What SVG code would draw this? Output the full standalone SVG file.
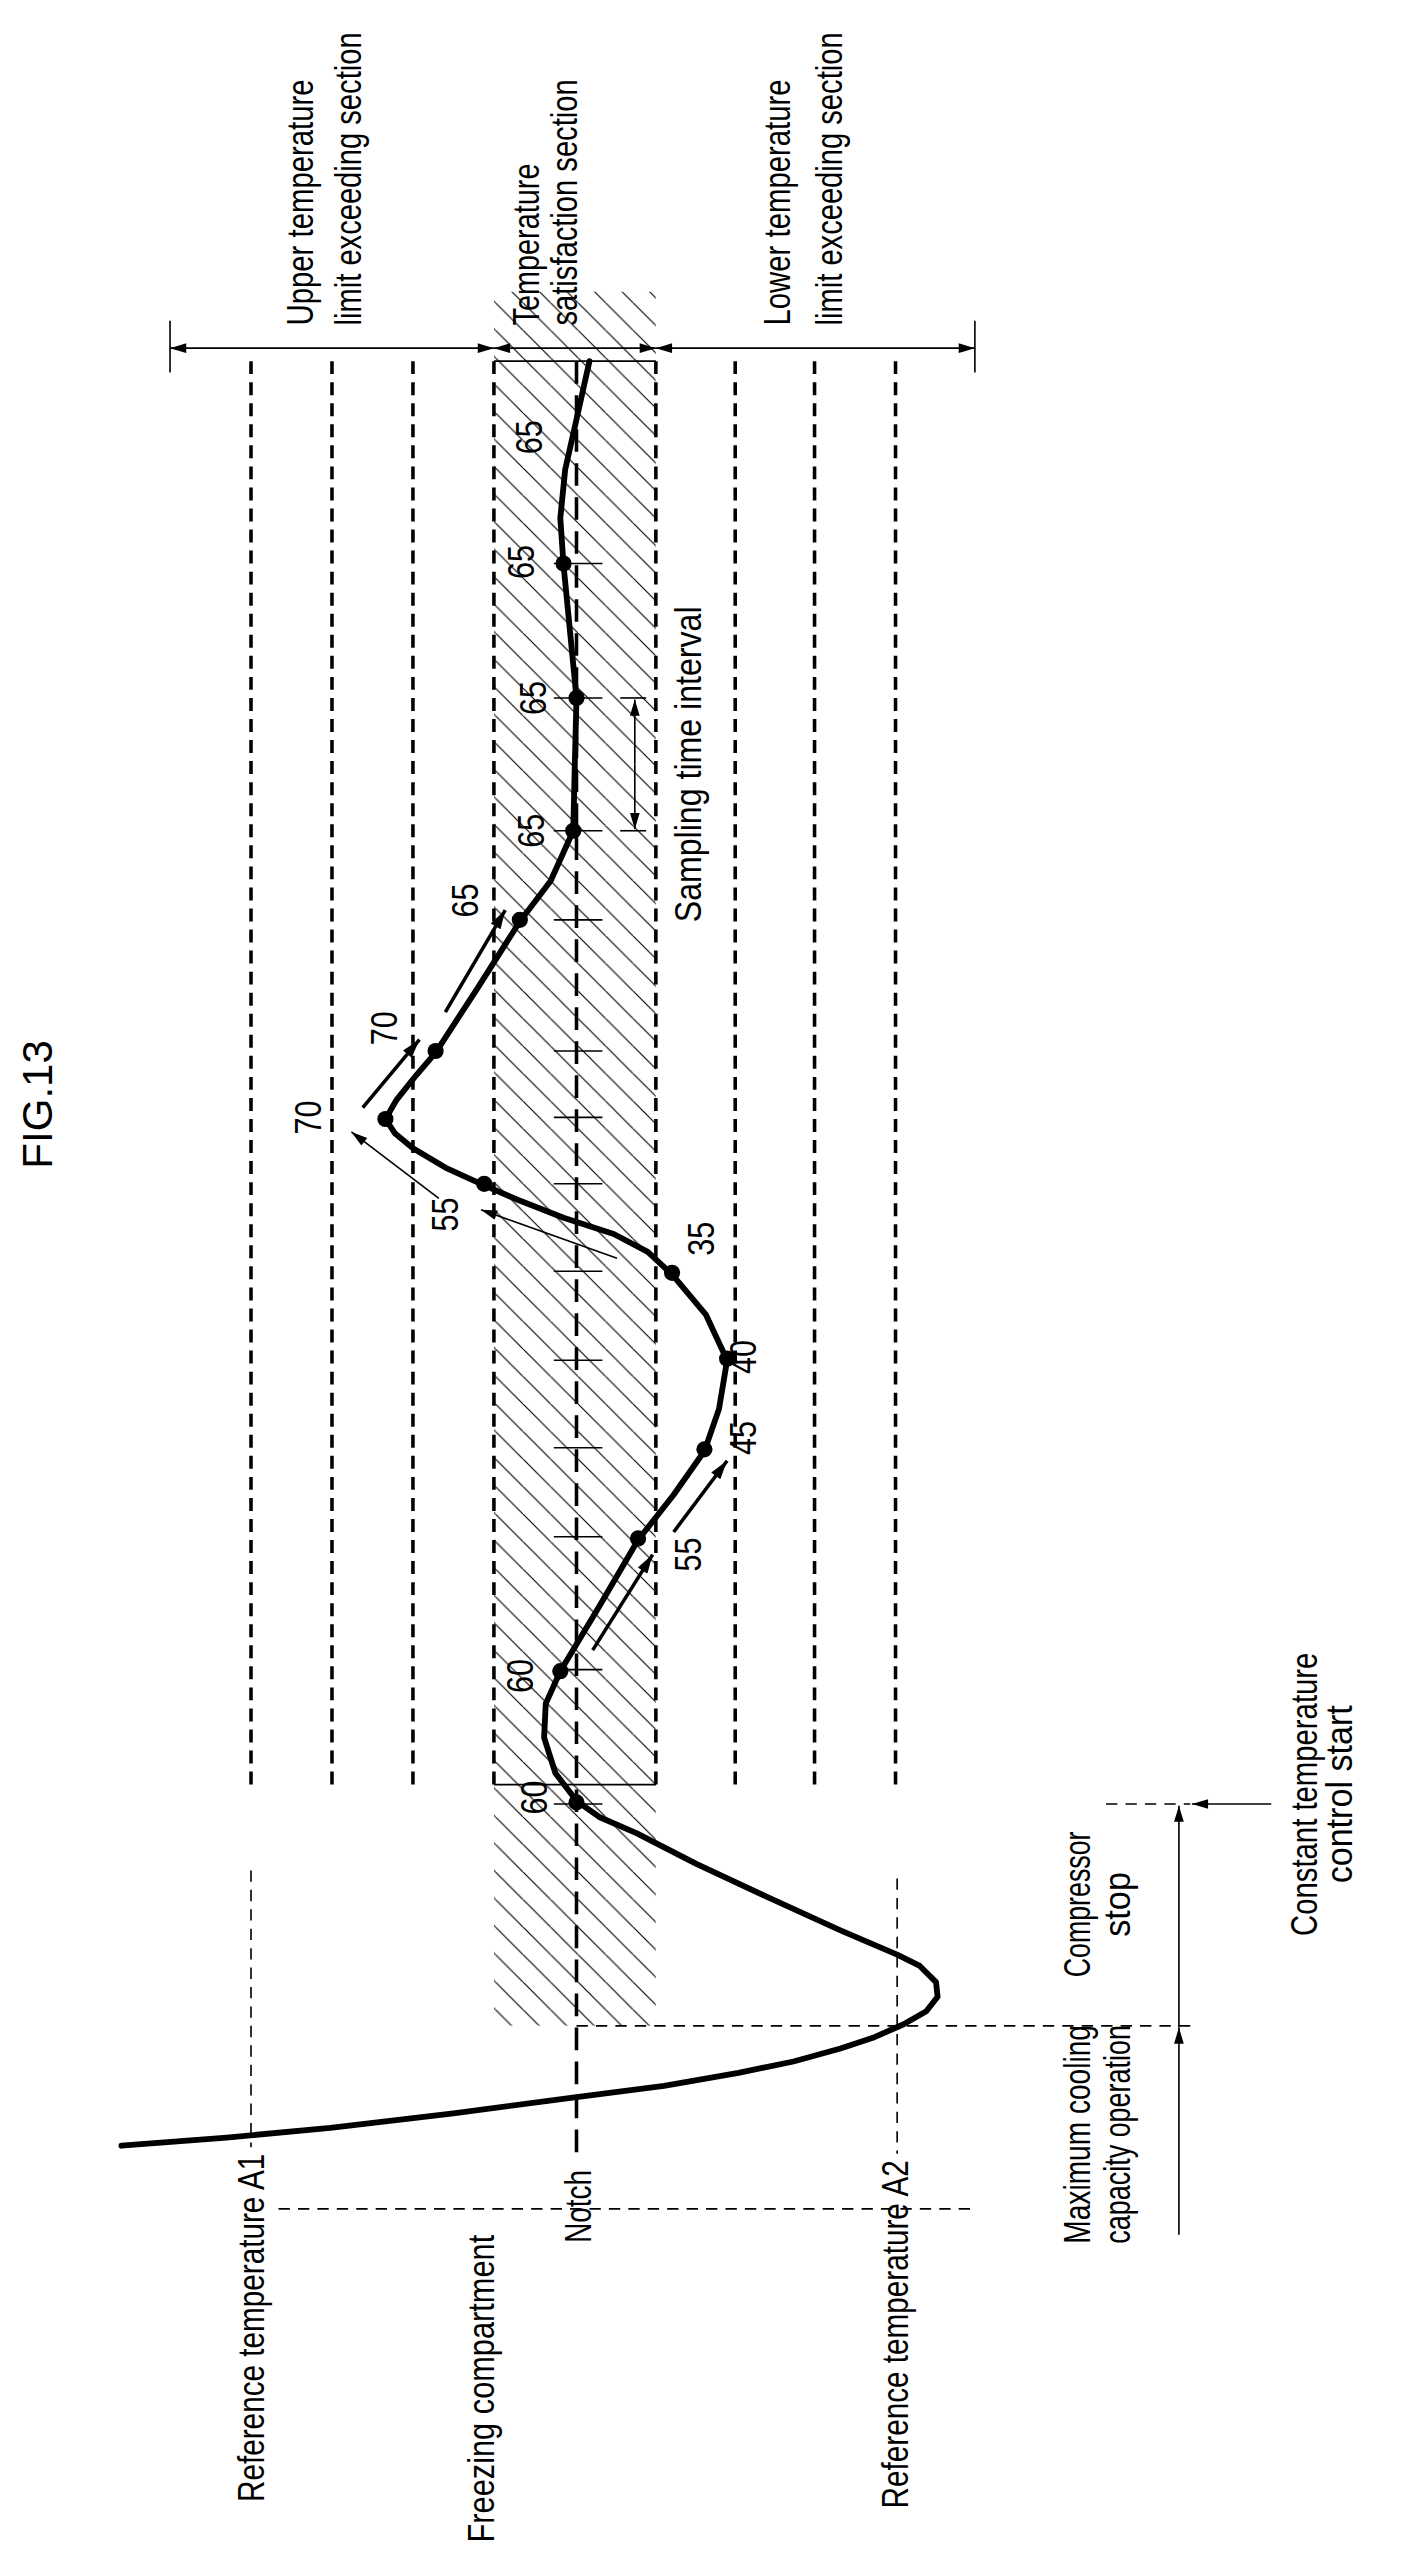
<svg xmlns="http://www.w3.org/2000/svg" width="1417" height="2550" viewBox="0 0 1417 2550">
<style>
.t{font-family:"Liberation Sans Narrow","Liberation Sans",sans-serif;font-size:23px;fill:#000}
.n{font-family:"Liberation Sans Narrow","Liberation Sans",sans-serif;font-size:23px;fill:#000;text-anchor:middle}
.thin{stroke:#000;stroke-width:1;fill:none}
.dl{stroke:#000;stroke-width:2.2;fill:none;stroke-dasharray:8 5}
.dt{stroke:#000;stroke-width:1;fill:none;stroke-dasharray:7 5}
.arr{stroke:#000;stroke-width:1;fill:none;marker-end:url(#ah)}
.arrb{stroke:#000;stroke-width:2.2;fill:none;marker-end:url(#ahb)}
</style>
<defs>
<marker id="ah" viewBox="0 0 10 6" refX="10" refY="3" markerWidth="14" markerHeight="6" markerUnits="userSpaceOnUse" orient="auto-start-reverse"><path d="M0,0 L10,3 L0,6 Z"/></marker>
<marker id="ahb" viewBox="0 0 10 6" refX="10" refY="3" markerWidth="14" markerHeight="7" markerUnits="userSpaceOnUse" orient="auto"><path d="M0,0 L10,3 L0,6 Z"/></marker>
<pattern id="hatch" patternUnits="userSpaceOnUse" width="17" height="17"><path d="M-1,-1 L18,18 M-18,0 L0,18 M0,-17 L17,0" stroke="#000" stroke-width="0.7"/></pattern>
<clipPath id="hc"><rect x="305" y="180" width="100" height="1071"/></clipPath>
</defs>
<g transform="scale(1.6194)">
<g id="title"><text transform="translate(32,682) rotate(-90)" style="font-family:'Liberation Sans',sans-serif;font-size:26px" text-anchor="middle">FIG.13</text></g>

<g id="hatching"><rect x="305" y="180" width="100" height="1071" fill="url(#hatch)" clip-path="url(#hc)"/></g>

<g id="grid">
<line class="thin" x1="305" y1="223" x2="405" y2="223"/>
<line class="thin" x1="305" y1="1102" x2="405" y2="1102"/>
<line class="dl" x1="305" y1="223" x2="305" y2="1102"/>
<line class="dl" x1="405" y1="223" x2="405" y2="1102"/>
<line class="dl" x1="155" y1="223" x2="155" y2="1102"/>
<line class="dl" x1="205" y1="223" x2="205" y2="1102"/>
<line class="dl" x1="255" y1="223" x2="255" y2="1102"/>
<line class="dl" x1="454" y1="223" x2="454" y2="1102"/>
<line class="dl" x1="503" y1="223" x2="503" y2="1102"/>
<line class="dl" x1="553" y1="223" x2="553" y2="1102"/>
<line stroke="#000" stroke-width="2.2" stroke-dasharray="14 7" x1="356" y1="223" x2="356" y2="1336"/>
<path class="thin" d="M342,348H372M342,431H372M342,513H372M342,568H372M342,649H372M342,690H372M342,731H372M342,785H372M342,840H372M342,894H372M342,949H372M342,1031H372M342,1114H372"/>
<line class="dt" x1="155" y1="1155" x2="155" y2="1326"/>
<line class="dt" x1="554" y1="1160" x2="554" y2="1330"/>
<line class="dt" x1="172" y1="1364" x2="599" y2="1364"/>
<line class="dt" x1="356" y1="1251" x2="735" y2="1251"/>
<line class="dt" x1="683" y1="1114" x2="735" y2="1114"/>
</g>

<g id="dimensions">
<line class="thin" x1="105" y1="198" x2="105" y2="230"/>
<line class="thin" x1="602" y1="198" x2="602" y2="230"/>
<line class="thin" x1="105" y1="215" x2="305" y2="215" marker-start="url(#ah)" marker-end="url(#ah)"/>
<line class="thin" x1="305" y1="215" x2="405" y2="215" marker-start="url(#ah)" marker-end="url(#ah)"/>
<line class="thin" x1="405" y1="215" x2="602" y2="215" marker-start="url(#ah)" marker-end="url(#ah)"/>
<line class="thin" x1="383" y1="431" x2="399" y2="431"/>
<line class="thin" x1="383" y1="513" x2="399" y2="513"/>
<line class="thin" x1="392" y1="472" x2="392" y2="432" marker-end="url(#ah)"/>
<line class="thin" x1="392" y1="472" x2="392" y2="512" marker-end="url(#ah)"/>
<line class="thin" x1="728" y1="1380" x2="728" y2="1252" marker-end="url(#ah)"/>
<line class="thin" x1="728" y1="1252" x2="728" y2="1115" marker-end="url(#ah)"/>
<line class="thin" x1="785" y1="1114" x2="736" y2="1114" marker-end="url(#ah)"/>
</g>

<g id="curve">
<path d="M75,1325 L140,1320 L204,1314 L280,1305 L356,1295 L410,1288 L456,1280 L490,1273 L519,1265 L540,1258 L558,1250 L572,1242 L579,1233 L578,1224 L568,1214 L554,1207 L519,1192 L475,1172 L430,1151 L393,1132 L370,1122 L356,1112 L343,1095 L336,1073 L337,1052 L346,1032 L370,992 L394,951 L416,923 L435,896 L444,870 L449,840 L436,812 L415,787 L400,773 L379,762 L348,752 L320,741 L299,732 L275,721 L255,709 L244,700 L238,691 L245,679 L257,664 L269,650 L295,610 L321,569 L340,544 L354,513 L355,470 L356,431 L352,390 L348,349 L346,320 L349,290 L356,259 L364,223" fill="none" stroke="#000" stroke-width="3.6" stroke-linejoin="round" stroke-linecap="round"/>
<g fill="#000">
<circle cx="348" cy="348" r="5"/><circle cx="356" cy="431" r="5"/><circle cx="354" cy="513" r="5"/><circle cx="321" cy="568" r="5"/><circle cx="269" cy="649" r="5"/><circle cx="238" cy="691" r="5"/><circle cx="299" cy="731" r="5"/><circle cx="415" cy="786" r="5"/><circle cx="449" cy="839" r="5"/><circle cx="435" cy="895" r="5"/><circle cx="394" cy="950" r="5"/><circle cx="346" cy="1032" r="5"/><circle cx="356" cy="1113" r="5"/>
</g>
</g>

<g id="flow-arrows">
<line class="arrb" x1="275" y1="625" x2="312" y2="562"/>
<line class="arrb" x1="224" y1="684" x2="259" y2="642"/>
<line class="arr" x1="271" y1="740" x2="217" y2="699"/>
<line class="arr" x1="381" y1="777" x2="297" y2="747"/>
<line class="arrb" x1="366" y1="1019" x2="403" y2="960"/>
<line class="arrb" x1="416" y1="946" x2="449" y2="902"/>
</g>

<g id="values">
<text class="n" textLength="21" lengthAdjust="spacingAndGlyphs" transform="translate(335,270) rotate(-90)">65</text>
<text class="n" textLength="21" lengthAdjust="spacingAndGlyphs" transform="translate(330,347) rotate(-90)">65</text>
<text class="n" textLength="21" lengthAdjust="spacingAndGlyphs" transform="translate(337,431) rotate(-90)">65</text>
<text class="n" textLength="21" lengthAdjust="spacingAndGlyphs" transform="translate(336,513) rotate(-90)">65</text>
<text class="n" textLength="21" lengthAdjust="spacingAndGlyphs" transform="translate(295,556) rotate(-90)">65</text>
<text class="n" textLength="21" lengthAdjust="spacingAndGlyphs" transform="translate(245,635) rotate(-90)">70</text>
<text class="n" textLength="21" lengthAdjust="spacingAndGlyphs" transform="translate(198,690) rotate(-90)">70</text>
<text class="n" textLength="21" lengthAdjust="spacingAndGlyphs" transform="translate(283,750) rotate(-90)">55</text>
<text class="n" textLength="21" lengthAdjust="spacingAndGlyphs" transform="translate(441,765) rotate(-90)">35</text>
<text class="n" textLength="21" lengthAdjust="spacingAndGlyphs" transform="translate(467,838) rotate(-90)">40</text>
<text class="n" textLength="21" lengthAdjust="spacingAndGlyphs" transform="translate(467,888) rotate(-90)">45</text>
<text class="n" textLength="21" lengthAdjust="spacingAndGlyphs" transform="translate(433,960) rotate(-90)">55</text>
<text class="n" textLength="21" lengthAdjust="spacingAndGlyphs" transform="translate(329,1035) rotate(-90)">60</text>
<text class="n" textLength="21" lengthAdjust="spacingAndGlyphs" transform="translate(338,1110) rotate(-90)">60</text>
</g>

<g id="labels">
<text class="t" textLength="152" lengthAdjust="spacingAndGlyphs" transform="translate(193,201) rotate(-90)">Upper temperature</text>
<text class="t" textLength="181" lengthAdjust="spacingAndGlyphs" transform="translate(223,201) rotate(-90)">limit exceeding section</text>
<text class="t" textLength="100" lengthAdjust="spacingAndGlyphs" transform="translate(333,201) rotate(-90)">Temperature</text>
<text class="t" textLength="152" lengthAdjust="spacingAndGlyphs" transform="translate(356,201) rotate(-90)">satisfaction section</text>
<text class="t" textLength="152" lengthAdjust="spacingAndGlyphs" transform="translate(488,201) rotate(-90)">Lower temperature</text>
<text class="t" textLength="181" lengthAdjust="spacingAndGlyphs" transform="translate(520,201) rotate(-90)">limit exceeding section</text>
<text class="t" textLength="195" lengthAdjust="spacingAndGlyphs" transform="translate(433,472) rotate(-90)" text-anchor="middle">Sampling time interval</text>
<text class="t" textLength="215" lengthAdjust="spacingAndGlyphs" transform="translate(163,1330) rotate(-90)" text-anchor="end">Reference temperature A1</text>
<text class="t" textLength="190" lengthAdjust="spacingAndGlyphs" transform="translate(305,1380) rotate(-90)" text-anchor="end">Freezing compartment</text>
<text class="t" textLength="45" lengthAdjust="spacingAndGlyphs" transform="translate(365,1385) rotate(-90)" text-anchor="start">Notch</text>
<text class="t" textLength="215" lengthAdjust="spacingAndGlyphs" transform="translate(561,1334) rotate(-90)" text-anchor="end">Reference temperature A2</text>
<text class="t" textLength="135" lengthAdjust="spacingAndGlyphs" transform="translate(673,1318) rotate(-90)" text-anchor="middle">Maximum cooling</text>
<text class="t" textLength="135" lengthAdjust="spacingAndGlyphs" transform="translate(698,1318) rotate(-90)" text-anchor="middle">capacity operation</text>
<text class="t" textLength="90" lengthAdjust="spacingAndGlyphs" transform="translate(673,1176) rotate(-90)" text-anchor="middle">Compressor</text>
<text class="t" textLength="40" lengthAdjust="spacingAndGlyphs" transform="translate(698,1176) rotate(-90)" text-anchor="middle">stop</text>
<text class="t" textLength="175" lengthAdjust="spacingAndGlyphs" transform="translate(813,1108) rotate(-90)" text-anchor="middle">Constant temperature</text>
<text class="t" textLength="110" lengthAdjust="spacingAndGlyphs" transform="translate(835,1108) rotate(-90)" text-anchor="middle">control start</text>
</g>
</g>
</svg>
